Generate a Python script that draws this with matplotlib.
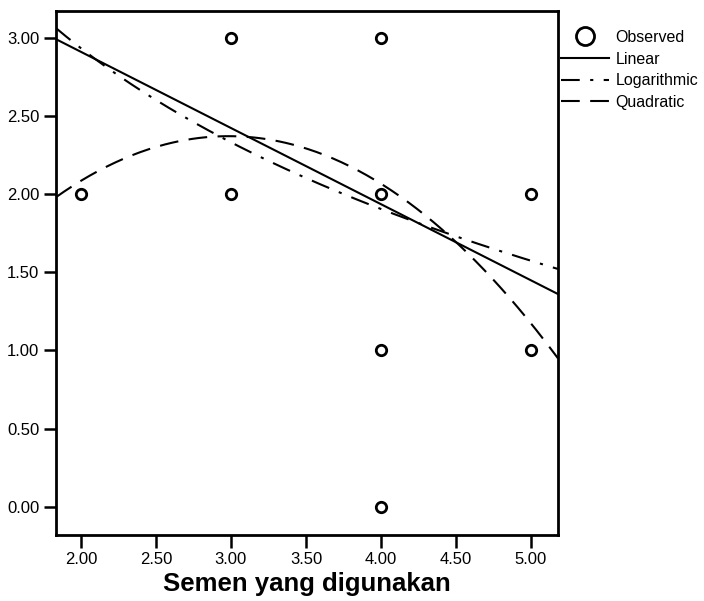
import matplotlib
matplotlib.use("Agg")
import matplotlib.pyplot as plt
import numpy as np

plt.rcParams['font.family'] = ['Liberation Sans', 'DejaVu Sans']

# observed cases
obs_x = [2, 3, 3, 4, 4, 4, 4, 5, 5]
obs_y = [2, 3, 2, 3, 2, 1, 0, 2, 1]

# fitted model coefficients
linear_coef = [3.883, -0.487]            # b0 + b1*x
log_coef = [3.96, -1.483]                # b0 + b1*ln(x)
quad_coef = [-0.255, 1.759, -0.2947]     # b0 + b1*x + b2*x^2

x_ticks = [2.0, 2.5, 3.0, 3.5, 4.0, 4.5, 5.0]
y_ticks = [0.0, 0.5, 1.0, 1.5, 2.0, 2.5, 3.0]
x_label = "Semen yang digunakan"

fig = plt.figure(figsize=(7.04, 6.01), dpi=100)
ax = fig.add_axes([56 / 704, 1 - 535 / 601, (558 - 56) / 704, (535 - 11) / 601])

xmin, xmax = 1.834, 5.18
xs = np.linspace(xmin, xmax, 300)

ax.plot(xs, linear_coef[0] + linear_coef[1] * xs, color='black', lw=1.5,
        label='Linear')
ax.plot(xs, log_coef[0] + log_coef[1] * np.log(xs), color='black', lw=1.5,
        dashes=(9, 5, 1.5, 5), label='Logarithmic')
ax.plot(xs, quad_coef[0] + quad_coef[1] * xs + quad_coef[2] * xs ** 2,
        color='black', lw=1.5, dashes=(9, 5), label='Quadratic')
ax.plot(obs_x, obs_y, 'o', ms=7.5, mfc='white', mec='black', mew=2,
        label='Observed', zorder=5)

ax.set_xlim(xmin, xmax)
ax.set_ylim(-0.18, 3.17)
ax.set_xticks(x_ticks)
ax.set_yticks(y_ticks)
ax.set_xticklabels([f"{t:.2f}" for t in x_ticks], fontsize=12)
ax.set_yticklabels([f"{t:.2f}" for t in y_ticks], fontsize=12)
ax.tick_params(direction='out', length=9, width=1.8, pad=3)
for s in ax.spines.values():
    s.set_linewidth(2)
ax.set_xlabel(x_label, fontsize=18.5, fontweight='bold', labelpad=4)

handles, labels = ax.get_legend_handles_labels()
order = [3, 0, 1, 2]
leg = ax.legend([handles[i] for i in order], [labels[i] for i in order],
                loc='upper left', bbox_to_anchor=(1.0, 0.97), frameon=False,
                fontsize=11.5, handlelength=3.0, handletextpad=0.4,
                labelspacing=0.42, borderaxespad=0.0, borderpad=0.2)
leg.legend_handles[0].set_markersize(13)

fig.savefig("out.png", dpi=100)
